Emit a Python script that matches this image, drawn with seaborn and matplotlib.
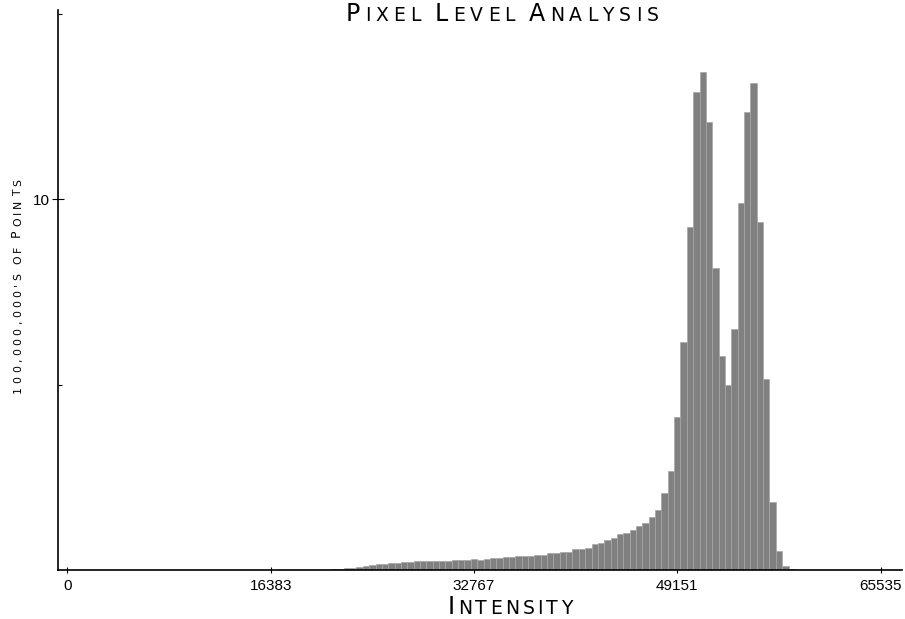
import numpy as np
import pandas as pd
import matplotlib
matplotlib.use("Agg")
import matplotlib.pyplot as plt
import seaborn as sns
from matplotlib.offsetbox import TextArea, HPacker, AnnotationBbox
from matplotlib.text import Annotation

# histogram data: 512-wide intensity bins, heights in 100,000,000's of points
BIN_WIDTH = 512
FIRST_BIN = 40
tail_counts = [0.006, 0.012, 0.022, 0.033, 0.045, 0.060, 0.078, 0.099, 0.126, 0.153,
               0.171, 0.189, 0.202, 0.216, 0.225, 0.234, 0.238, 0.243, 0.252, 0.252,
               0.256, 0.261, 0.270, 0.274]
shoulder_counts = [0.288, 0.283, 0.288, 0.315, 0.315, 0.342, 0.342, 0.365, 0.370, 0.375,
                   0.405, 0.405, 0.450, 0.450, 0.495, 0.495, 0.557, 0.557, 0.602, 0.692,
                   0.719, 0.809, 0.854, 0.962, 1.006, 1.079]
peak_counts = [1.195, 1.260, 1.438, 1.610, 2.069, 2.671, 4.127, 6.159, 9.261, 12.886,
               13.434, 12.085, 8.155, 5.781, 4.991, 6.493, 9.892, 12.355, 13.145, 9.396,
               5.152, 1.842, 0.521, 0.108, 0.027]

x_ticks = [0, 16383, 32767, 49151, 65535]
y_major = [10]
y_minor = [5, 15]

title_text = "Pixel Level Analysis"
x_label = "Intensity"
y_label = "100,000,000's of Points"

counts = tail_counts + shoulder_counts + peak_counts
df = pd.DataFrame({
    "intensity": [(FIRST_BIN + i) * BIN_WIDTH for i in range(len(counts))],
    "points": counts,
})

sns.set_theme(style="ticks")
plt.rcParams['font.family'] = ['Liberation Sans', 'DejaVu Sans']
LABEL_FONT = "DejaVu Sans"

W, H = 905, 619
fig = plt.figure(figsize=(W / 100, H / 100), dpi=100)
ax = fig.add_axes([58 / W, 1 - 570 / H, (902 - 58) / W, (570 - 10) / H])

sns.histplot(data=df, x="intensity", weights="points", binwidth=BIN_WIDTH,
             binrange=(-BIN_WIDTH / 2, 65536 - BIN_WIDTH / 2), ax=ax,
             color="#808080", alpha=1, edgecolor="#a6a6a6", linewidth=0.5)

ax.set_xlim(-757, 67258)
ax.set_ylim(0, 15.11)
ax.set_xlabel("")
ax.set_ylabel("")
ax.set_xticks(x_ticks)
ax.set_xticklabels([str(t) for t in x_ticks])
ax.set_yticks(y_major)
ax.set_yticks(y_minor, minor=True)
ax.set_yticklabels([str(t) for t in y_major])

sns.despine(ax=ax)
for s in ["left", "bottom"]:
    ax.spines[s].set_linewidth(1.2)
    ax.spines[s].set_color("black")
ax.tick_params(axis="x", direction="inout", length=5, width=0.8, pad=4,
               labelsize=11, colors="black")
ax.tick_params(axis="y", which="major", direction="inout", length=8, width=0.8,
               pad=1.5, labelsize=11, colors="black")
ax.tick_params(axis="y", which="minor", direction="in", length=3, width=0.8, colors="black")


# small-caps text built letter by letter (first capital full size, rest smaller)
def caps_row(text, big, small, track, gap):
    words = []
    for word in text.split():
        letters = []
        for i, ch in enumerate(word):
            size = big if (i == 0 and ch.isupper()) else small
            letters.append(TextArea(ch.upper(), textprops=dict(size=size, family=LABEL_FONT,
                                                               color="black")))
        words.append(HPacker(children=letters, align="baseline", pad=0, sep=track))
    return HPacker(children=words, align="baseline", pad=0, sep=gap)


def caps_column(x, y, text, big, small, track, gap):
    prev = None
    for w, word in enumerate(text.split()):
        for i, ch in enumerate(word):
            size = big if (i == 0 and ch.isupper()) else small
            props = dict(rotation=90, ha="right", va="bottom", size=size,
                         family=LABEL_FONT, color="black")
            if prev is None:
                prev = fig.text(x / W, y / H, ch.upper(), **props)
            else:
                step = gap if i == 0 else track
                prev = Annotation(ch.upper(), xy=(1, 1), xycoords=prev, xytext=(0, step),
                                  textcoords="offset points", **props)
                fig.add_artist(prev)


xl = AnnotationBbox(caps_row(x_label, 17, 13.5, 2.3, 8), (510, -0.5),
                    xycoords="figure pixels", box_alignment=(0.5, 0), frameon=False, pad=0)
fig.add_artist(xl)

tt = AnnotationBbox(caps_row(title_text, 17, 13.5, 3.6, 10), (502, 593),
                    xycoords="figure pixels", box_alignment=(0.5, 0), frameon=False, pad=0)
fig.add_artist(tt)

caps_column(23, 226, y_label, 9, 7.8, 2.4, 6.5)

fig.savefig("out.png", dpi=100)
